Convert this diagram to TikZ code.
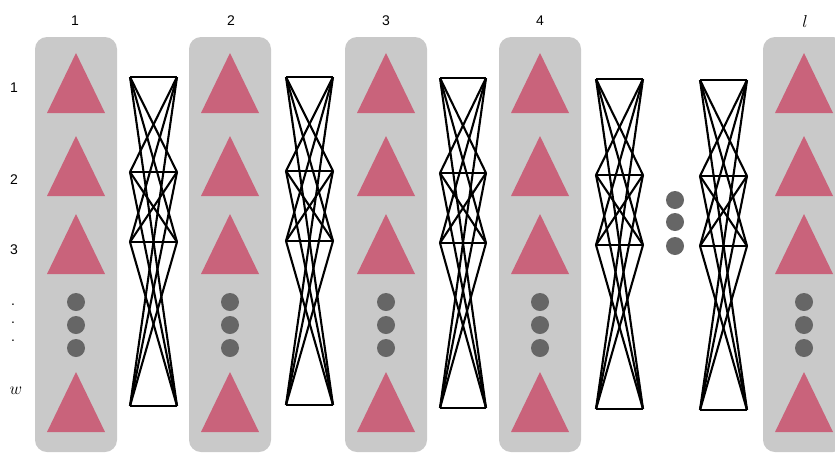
\documentclass[tikz,border=0pt]{standalone}
\usepackage{fontspec}
\newfontfamily\labfont{Liberation Sans}
\definecolor{colgrey}{HTML}{C9C9C9}
\definecolor{tripink}{HTML}{C9637B}
\definecolor{dotgrey}{HTML}{666666}
\tikzset{
  column/.style={fill=colgrey, draw=none, rounded corners=12pt},
  tri/.style={fill=tripink, draw=none},
  bigdot/.style={circle, fill=dotgrey, minimum size=18pt, inner sep=0pt},
  lab/.style={font=\labfont\fontsize{14}{16}\selectfont, inner sep=0pt},
  mlab/.style={font=\fontsize{16}{18}\selectfont, inner sep=0pt},
  link/.style={line width=2.1pt, black, line join=round},
}
\newcommand{\mytri}[2]{\fill[tri] (#1,#2) -- (#1-29,#2+60) -- (#1+29,#2+60) -- cycle;}
\begin{document}
\begin{tikzpicture}[x=1pt,y=-1pt]
\useasboundingbox (0,0) rectangle (835,453);
% columns
\foreach \c in {76,230,386,540,804} {
  \fill[column] (\c-41,37) rectangle (\c+41,452);
  \foreach \t in {53,136,214,372} { \mytri{\c}{\t} }
}
% dots in columns
\foreach \c/\n in {76/1,230/2,386/3,540/4,804/5} {
  \node[bigdot] (d\n a) at (\c,302) {};
  \node[bigdot] (d\n b) at (\c,325) {};
  \node[bigdot] (d\n c) at (\c,348) {};
}
% middle dots
\node[bigdot] (ma) at (675,200) {};
\node[bigdot] (mb) at (675,222) {};
\node[bigdot] (mc) at (675,246) {};
% top labels
\node[lab] (t1) at (75,21) {1};
\node[lab] (t2) at (231,21) {2};
\node[lab] (t3) at (386,21) {3};
\node[lab] (t4) at (540,21) {4};
\node[mlab] (t5) at (805,21) {$l$};
% left labels
\node[lab] (r1) at (14,88) {1};
\node[lab] (r2) at (14,180) {2};
\node[lab] (r3) at (14,250) {3};
\node[lab] (rd1) at (13,305) {.};
\node[lab] (rd2) at (13,323) {.};
\node[lab] (rd3) at (13,341) {.};
\node[mlab] (rw) at (16,391) {$w$};
% connector blocks
\foreach \b/\xa/\xb/\ya/\yb/\yc/\yd in {
  1/130/177/77/172/242/406,
  2/286/333/77/171/241/405,
  3/440/486/78/173/243/408,
  4/596/643/79/175/245/409,
  5/700/747/80/176/246/410} {
  \coordinate (b\b l1) at (\xa,\ya);
  \coordinate (b\b l2) at (\xa,\yb);
  \coordinate (b\b l3) at (\xa,\yc);
  \coordinate (b\b l4) at (\xa,\yd);
  \coordinate (b\b r1) at (\xb,\ya);
  \coordinate (b\b r2) at (\xb,\yb);
  \coordinate (b\b r3) at (\xb,\yc);
  \coordinate (b\b r4) at (\xb,\yd);
  \foreach \i in {1,2,3,4} {
    \foreach \j in {1,2,3,4} {
      \draw[link] (b\b l\i) -- (b\b r\j);
    }
  }
}
\end{tikzpicture}
\end{document}
